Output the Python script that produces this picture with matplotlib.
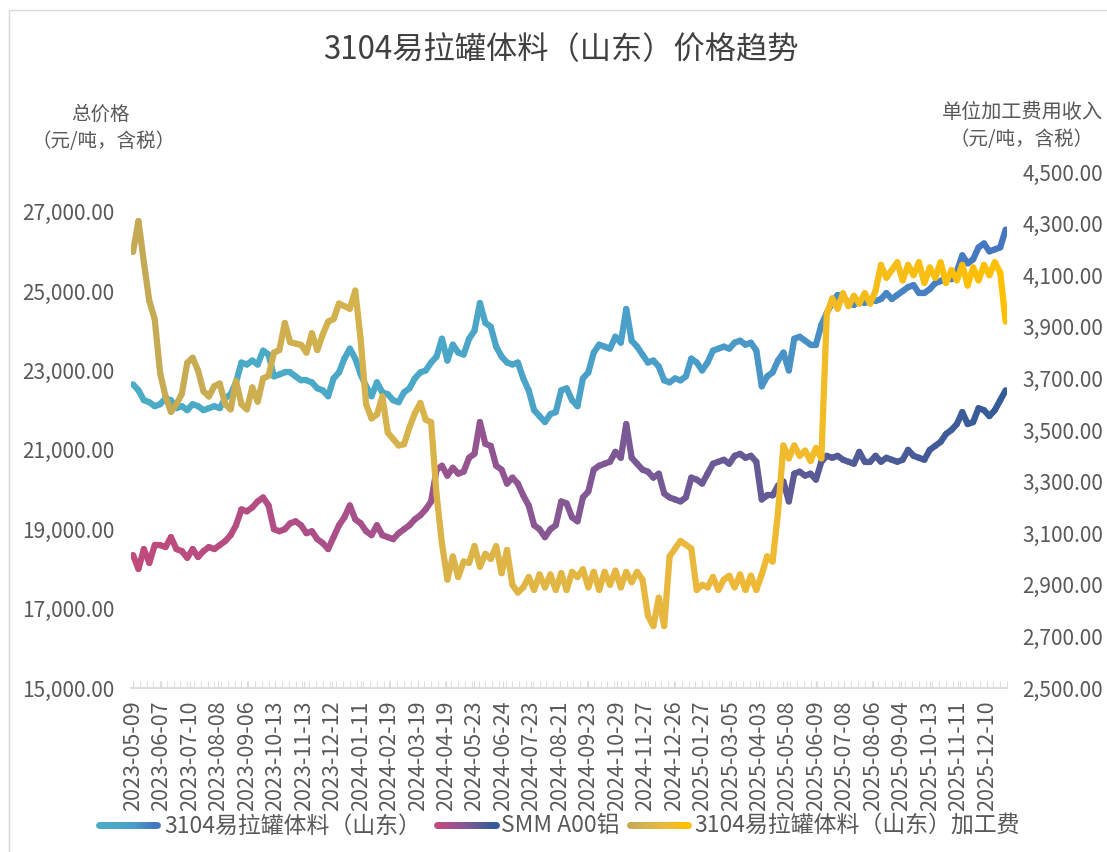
import numpy as np
import matplotlib
matplotlib.use('Agg')
import matplotlib.pyplot as plt
from matplotlib.collections import LineCollection
from matplotlib.colors import LinearSegmentedColormap
from matplotlib.ticker import FuncFormatter, MultipleLocator

plt.rcParams['font.family'] = ['Noto Sans CJK SC', 'DejaVu Sans']

# 数据：每4个交易日取一个点
step = 4
date_labels = ['2023-05-09', '2023-06-07', '2023-07-10', '2023-08-08', '2023-09-06', '2023-10-13',
               '2023-11-13', '2023-12-12', '2024-01-11', '2024-02-19', '2024-03-19', '2024-04-19',
               '2024-05-23', '2024-06-24', '2024-07-23', '2024-08-21', '2024-09-23', '2024-10-29',
               '2024-11-27', '2024-12-26', '2025-01-27', '2025-03-05', '2025-04-03', '2025-05-08',
               '2025-06-09', '2025-07-08', '2025-08-06', '2025-09-04', '2025-10-13', '2025-11-11',
               '2025-12-10']
label_every = 21

# 3104易拉罐体料（山东） 总价
can_price = [22650, 22500, 22250, 22200, 22100, 22150, 22300, 22250, 22050, 22100,
             22000, 22150, 22100, 22000, 22050, 22100, 22050, 22300, 22400, 22700,
             23200, 23150, 23250, 23150, 23500, 23400, 22850, 22900, 22950, 22950,
             22850, 22750, 22750, 22700, 22550, 22500, 22350, 22800, 22950, 23300,
             23550, 23300, 22900, 22600, 22350, 22700, 22450, 22400, 22250, 22200,
             22450, 22550, 22800, 22950, 23000, 23200, 23350, 23800, 23250, 23650,
             23450, 23400, 23800, 24000, 24700, 24200, 24100, 23600, 23350, 23200,
             23150, 23200, 22800, 22500, 22000, 21850, 21700, 21900, 21950, 22500,
             22550, 22250, 22100, 22800, 22950, 23450, 23650, 23600, 23550, 23850,
             23700, 24550, 23750, 23600, 23400, 23200, 23250, 23100, 22750, 22700,
             22800, 22750, 22850, 23300, 23200, 23000, 23200, 23500, 23550, 23600,
             23550, 23700, 23750, 23650, 23700, 23500, 22600, 22850, 22950, 23250,
             23450, 23000, 23800, 23850, 23750, 23650, 23650, 24150, 24450, 24700,
             24900, 24850, 24700, 24650, 24750, 24700, 24800, 24750, 24800, 24950,
             24800, 24900, 25000, 25100, 25150, 24950, 24950, 25050, 25200, 25250,
             25350, 25300, 25500, 25900, 25700, 25800, 26100, 26200, 26000, 26050,
             26100, 26550]

# SMM A00铝
al_price = [18350, 18000, 18500, 18150, 18600, 18600, 18550, 18800, 18500, 18450,
            18280, 18500, 18300, 18450, 18550, 18500, 18600, 18700, 18850, 19100,
            19500, 19450, 19550, 19700, 19800, 19600, 19000, 18950, 19000, 19150,
            19200, 19100, 18900, 18950, 18750, 18650, 18500, 18800, 19100, 19300,
            19600, 19250, 19150, 18950, 18850, 19100, 18850, 18800, 18750, 18900,
            19000, 19100, 19250, 19350, 19500, 19700, 20500, 20600, 20350, 20550,
            20400, 20450, 20800, 20900, 21700, 21150, 21100, 20600, 20500, 20150,
            20300, 20150, 19850, 19600, 19100, 19000, 18800, 19000, 19100, 19700,
            19650, 19300, 19200, 19800, 19950, 20500, 20600, 20650, 20700, 20950,
            20800, 21650, 20800, 20650, 20500, 20450, 20300, 20400, 19900, 19800,
            19750, 19700, 19800, 20300, 20250, 20150, 20400, 20650, 20700, 20750,
            20650, 20850, 20900, 20800, 20850, 20700, 19750, 19850, 19850, 20100,
            20200, 19700, 20400, 20450, 20350, 20400, 20250, 20700, 20850, 20800,
            20850, 20750, 20700, 20650, 20950, 20700, 20700, 20850, 20700, 20800,
            20750, 20700, 20750, 21000, 20850, 20800, 20750, 21000, 21100, 21200,
            21400, 21500, 21650, 21950, 21650, 21700, 22050, 22000, 21850, 22000,
            22250, 22500]

# 3104易拉罐体料（山东）加工费
fee = [4190, 4310, 4150, 4000, 3930, 3720, 3630, 3570, 3600, 3640,
       3760, 3780, 3730, 3650, 3630, 3670, 3680, 3600, 3580, 3690,
       3600, 3580, 3665, 3610, 3700, 3710, 3800, 3810, 3915, 3840,
       3835, 3830, 3800, 3875, 3810, 3870, 3920, 3930, 3990, 3980,
       3970, 4040, 3850, 3600, 3545, 3560, 3630, 3490, 3465, 3440,
       3445, 3510, 3565, 3605, 3540, 3530, 3250, 3060, 2920, 3010,
       2930, 2990, 2985, 3050, 2970, 3020, 3000, 3050, 2945, 3035,
       2900, 2870, 2890, 2930, 2880, 2940, 2890, 2940, 2880, 2945,
       2880, 2950, 2930, 2960, 2890, 2950, 2880, 2950, 2900, 2955,
       2890, 2950, 2910, 2950, 2920, 2780, 2740, 2850, 2740, 3010,
       3040, 3070, 3055, 3040, 2880, 2900, 2890, 2930, 2880, 2920,
       2935, 2890, 2940, 2880, 2935, 2880, 2940, 3010, 2990, 3180,
       3440, 3390, 3440, 3400, 3420, 3380, 3430, 3390, 3950, 4010,
       3970, 4030, 3980, 4020, 3990, 4030, 3990, 4040, 4140, 4090,
       4120, 4150, 4080, 4140, 4100, 4150, 4070, 4130, 4090, 4150,
       4070, 4120, 4080, 4140, 4060, 4130, 4080, 4140, 4100, 4150,
       4110, 3920]

# 渐变色
cm_can = LinearSegmentedColormap.from_list('can', ['#4BACC6', '#4BA8C7', '#4A9CC8', '#4576C0'])
cm_al = LinearSegmentedColormap.from_list('al', ['#C04B7C', '#A8508A', '#855895', '#5F5A96', '#345C98'])
cm_fee = LinearSegmentedColormap.from_list('fee', ['#C4AA55', '#D9B44A', '#EBB83C', '#FFC000'])

GRAY = '#595959'


def grad_line(ax, y, cmap, lw=4.5):
    x = np.arange(len(y)) * step
    y = np.asarray(y, dtype=float)
    pts = np.column_stack([x, y]).reshape(-1, 1, 2)
    segs = np.concatenate([pts[:-1], pts[1:]], axis=1)
    t = (x[:-1] + x[1:]) / 2 / x[-1]
    lc = LineCollection(segs, colors=cmap(t), linewidths=lw, capstyle='round', joinstyle='round')
    ax.add_collection(lc)


fig = plt.figure(figsize=(11.07, 8.52), dpi=100)
ax = fig.add_axes([131 / 1107, 1 - 688 / 852, 876 / 1107, 516 / 852])
ax2 = ax.twinx()

grad_line(ax, can_price, cm_can)
grad_line(ax, al_price, cm_al)
grad_line(ax2, fee, cm_fee)

n_days = (len(can_price) - 1) * step
ax.set_xlim(-1.5, n_days + 1)
ax.set_ylim(15000, 28000)
ax2.set_ylim(2500, 4500)

# x轴刻度
ax.set_xticks(np.arange(len(date_labels)) * label_every)
ax.set_xticklabels(date_labels, rotation=90, fontsize=15.5, color=GRAY)
ax.xaxis.set_minor_locator(MultipleLocator(5))
ax.tick_params(axis='x', which='both', direction='in', length=5, color='#D9D9D9', pad=9)

# y轴刻度
ax.set_yticks(np.arange(15000, 28001, 2000))
ax.yaxis.set_major_formatter(FuncFormatter(lambda v, p: '{:,.2f}'.format(v)))
ax.tick_params(axis='y', length=0, pad=12, labelsize=15, labelcolor=GRAY)
ax2.set_yticks(np.arange(2500, 4501, 200))
ax2.yaxis.set_major_formatter(FuncFormatter(lambda v, p: '{:,.2f}'.format(v)))
ax2.tick_params(axis='y', length=0, pad=11, labelsize=15, labelcolor=GRAY)

for s in ['top', 'left', 'right']:
    ax.spines[s].set_visible(False)
    ax2.spines[s].set_visible(False)
ax2.spines['bottom'].set_visible(False)
ax.spines['bottom'].set_color('#D9D9D9')
ax.spines['bottom'].set_linewidth(1.2)

# 标题和轴标题
fig.text(561 / 1107, 1 - 50 / 852, '3104易拉罐体料（山东）价格趋势', ha='center', va='center',
         fontsize=22.5, color='#404040')
fig.text(100 / 1107, 1 - 114 / 852, '总价格', ha='center', va='center', fontsize=14, color=GRAY)
fig.text(104 / 1107, 1 - 142 / 852, '（元/吨，含税）', ha='center', va='center', fontsize=14, color=GRAY)
fig.text(1022 / 1107, 1 - 112 / 852, '单位加工费用收入', ha='center', va='center', fontsize=14.5, color=GRAY)
fig.text(1022 / 1107, 1 - 139 / 852, '（元/吨，含税）', ha='center', va='center', fontsize=14, color=GRAY)

# 图例和边框（像素坐标）
lax = fig.add_axes([0, 0, 1, 1], zorder=5)
lax.set_xlim(0, 1107)
lax.set_ylim(852, 0)
lax.axis('off')
lax.add_patch(plt.Rectangle((9, 10), 1110, 900, fill=False, edgecolor='#D9D9D9', lw=1))
lax.add_patch(plt.Rectangle((90, 816), 960, 30, facecolor='white', edgecolor='none'))
legend_items = [(99, 157, 164, cm_can, '3104易拉罐体料（山东）'),
                (437, 496, 501, cm_al, 'SMM A00铝'),
                (630, 688, 694, cm_fee, '3104易拉罐体料（山东）加工费')]
for x0, x1, xt, cmap, txt in legend_items:
    xs = np.linspace(x0, x1, 30)
    pts = np.column_stack([xs, np.full_like(xs, 825)]).reshape(-1, 1, 2)
    segs = np.concatenate([pts[:-1], pts[1:]], axis=1)
    lax.add_collection(LineCollection(segs, colors=cmap(np.linspace(0, 1, len(segs))),
                                      linewidths=5, capstyle='round'))
    lax.text(xt, 826, txt, ha='left', va='center', fontsize=16.5, color=GRAY)

plt.savefig('out.png', dpi=100)
